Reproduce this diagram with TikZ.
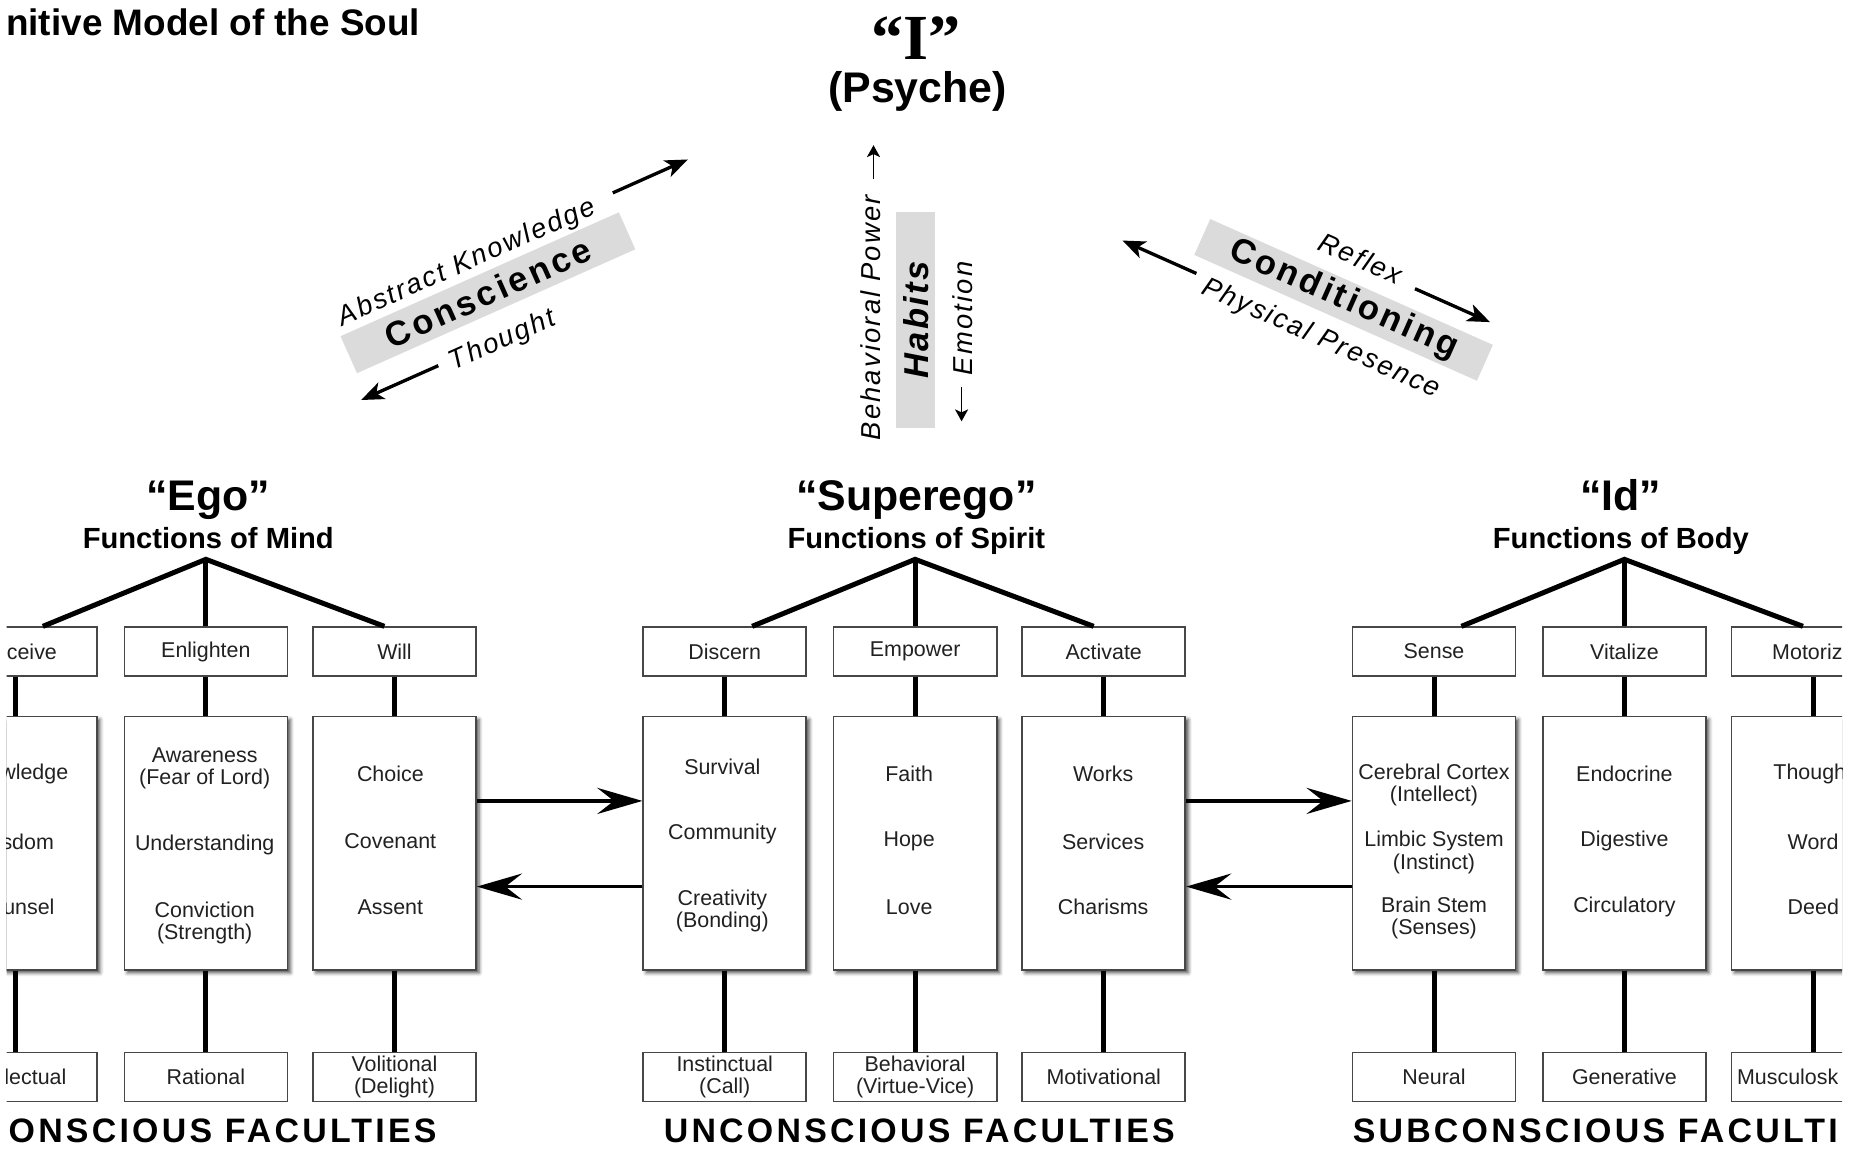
\documentclass[tikz,border=0pt]{standalone}
\usepackage{fontspec}
\setmainfont{Liberation Sans}
\newfontfamily\timesfam{Liberation Serif}
\usetikzlibrary{arrows.meta,shadows.blur}

\definecolor{bandgray}{gray}{0.86}
\definecolor{boxline}{gray}{0.28}
\definecolor{boxtext}{gray}{0.13}

\newcommand\boxfont{\fontsize{18}{19}\selectfont}
\newcommand\headfont{\fontsize{36}{38}\selectfont\bfseries}
\newcommand\subheadfont{\fontsize{24.5}{26}\selectfont\bfseries}
\newcommand\facfont{\fontsize{28.5}{30}\selectfont\bfseries\addfontfeature{LetterSpace=9.5}}
\newcommand\tagfont{\fontsize{23}{25}\selectfont\itshape\addfontfeature{LetterSpace=8}}
\newcommand\bandfont{\fontsize{29}{31}\selectfont\bfseries\addfontfeature{LetterSpace=9}}
\newcommand\habfont{\fontsize{29}{31}\selectfont\bfseries\itshape\addfontfeature{LetterSpace=7}}

\tikzset{
  small box/.style={draw=boxline,line width=1.4pt,fill=white,minimum width=137pt,minimum height=41pt,inner sep=0pt,text=boxtext,font=\boxfont,align=center},
  big box/.style={draw=boxline,line width=1.4pt,fill=white,minimum width=137pt,minimum height=213pt,inner sep=0pt,
    blur shadow={shadow xshift=2.5pt,shadow yshift=-2.5pt,shadow blur radius=3pt,shadow opacity=70}},
  entry/.style={inner sep=0pt,text=boxtext,font=\boxfont,align=center},
  stem/.style={draw=black,line width=4.2pt},
  flow/.style={draw=black,line width=2.8pt,-{Stealth[length=38pt,width=22pt,inset=14pt]}},
  swing/.style={draw=black,line width=2.8pt,-{Stealth[length=19pt,width=15pt,inset=5pt]}},
  thin arrow/.style={draw=black,line width=1.4pt,-{Stealth[length=10pt,width=11pt,inset=2.5pt]}},
  band/.style={fill=bandgray,inner sep=0pt},
  label text/.style={inner sep=0pt,font=\tagfont},
}

\begin{document}
\begin{tikzpicture}[x=1pt,y=1pt]
\useasboundingbox (0,0) rectangle (1568,-967);
\begin{scope}
\clip (5.5,0) rectangle (1548,-967);

% heading
\node[anchor=base west,inner sep=0pt,font=\fontsize{31}{33}\selectfont\bfseries] (title) at (5,-30) {nitive Model of the Soul};
\node[anchor=base,inner sep=0pt,font=\fontsize{54}{56}\selectfont\timesfam\bfseries] (self) at (770,-50) {“I”};
\node[anchor=base,inner sep=0pt,font=\headfont] (psyche) at (771,-86) {(Psyche)};

% conscience
\begin{scope}[shift={(410,-246)},rotate=24,transform shape]
    \node[band,minimum width=256pt,minimum height=34pt,font=\bandfont] (consc) at (0,0) {Conscience};
    \node[label text] (abstr) at (-6,30) {Abstract Knowledge};
    \node[label text] (thought) at (-5,-42) {Thought};
    \coordinate (kn-from) at (130,34);
    \coordinate (kn-to) at (199,34);
    \coordinate (th-from) at (-63,-39);
    \coordinate (th-to) at (-134,-39);
    \draw[swing] (kn-from) -- (kn-to);
    \draw[swing] (th-from) -- (th-to);
\end{scope}

% habits
\begin{scope}[shift={(769.5,-269)},rotate=90,transform shape]
    \node[band,minimum width=181pt,minimum height=33pt,font=\habfont] (habits) at (0,0) {Habits};
    \node[label text] (behav power) at (2,37.5) {Behavioral Power};
    \node[label text] (emotion) at (1.5,-39.5) {Emotion};
    \coordinate (bp-from) at (119,35.5);
    \coordinate (bp-to) at (147,35.5);
    \coordinate (em-from) at (-56,-38.5);
    \coordinate (em-to) at (-85,-38.5);
    \draw[thin arrow] (bp-from) -- (bp-to);
    \draw[thin arrow] (em-from) -- (em-to);
\end{scope}

% conditioning
\begin{scope}[shift={(1129,-252)},rotate=-24,transform shape]
    \node[band,minimum width=260pt,minimum height=33pt,font=\bandfont] (condit) at (0,0) {Conditioning};
    \node[label text] (reflex) at (-1,38) {Reflex};
    \node[label text] (presence) at (-4,-38) {Physical Presence};
    \coordinate (rf-from) at (51,33);
    \coordinate (rf-to) at (120,33);
    \coordinate (pp-from) at (-122,-30);
    \coordinate (pp-to) at (-190,-30);
    \draw[swing] (rf-from) -- (rf-to);
    \draw[swing] (pp-from) -- (pp-to);
\end{scope}

% group headings
\node[anchor=base,inner sep=0pt,font=\headfont] (ego) at (175,-429) {“Ego”};
\node[anchor=base,inner sep=0pt,font=\subheadfont] (egofn) at (175,-460.5) {Functions of Mind};
\node[anchor=base,inner sep=0pt,font=\headfont] (superego) at (770,-429) {“Superego”};
\node[anchor=base,inner sep=0pt,font=\subheadfont] (superegofn) at (770,-460.5) {Functions of Spirit};
\node[anchor=base,inner sep=0pt,font=\headfont] (id) at (1362,-429) {“Id”};
\node[anchor=base,inner sep=0pt,font=\subheadfont] (idfn) at (1362,-460.5) {Functions of Body};
\coordinate (egotop) at (173,-470);
\coordinate (superegotop) at (769,-470);
\coordinate (idtop) at (1365,-470);

% function boxes
\begin{scope}[every node/.style={small box}]
    \node (perceive) at (13,-547.5) {};
    \node (enlighten) at (173,-547.5) {Enlighten};
    \node (will) at (331.5,-547.5) {Will};
    \node (discern) at (609,-547.5) {Discern};
    \node (empower) at (769,-547.5) {Empower};
    \node (activate) at (927.5,-547.5) {Activate};
    \node (sense) at (1205,-547.5) {Sense};
    \node (vitalize) at (1365,-547.5) {Vitalize};
    \node (motorize) at (1523.5,-547.5) {};
    \node (intel) at (13,-905) {};
    \node (ration) at (173,-905) {Rational};
    \node (volit) at (331.5,-905) {Volitional\\(Delight)};
    \node (instinct) at (609,-905) {Instinctual\\(Call)};
    \node (behav) at (769,-905) {Behavioral\\(Virtue-Vice)};
    \node (motiv) at (927.5,-905) {Motivational};
    \node (neural) at (1205,-905) {Neural};
    \node (gener) at (1365,-905) {Generative};
    \node (muscul) at (1523.5,-905) {};
\end{scope}
\begin{scope}[every node/.style={big box}]
    \node (mindA) at (13,-708.5) {};
    \node (mindB) at (173,-708.5) {};
    \node (mindC) at (331.5,-708.5) {};
    \node (spiritA) at (609,-708.5) {};
    \node (spiritB) at (769,-708.5) {};
    \node (spiritC) at (927.5,-708.5) {};
    \node (bodyA) at (1205,-708.5) {};
    \node (bodyB) at (1365,-708.5) {};
    \node (bodyC) at (1523.5,-708.5) {};
\end{scope}

% box texts
\begin{scope}[every node/.style={entry}]
    \node[anchor=east] (perc-txt) at (48,-547.5) {ceive};
    \node[anchor=west] (motor-txt) at (1489,-547.5) {Motoriz};
    \node[anchor=east] (intel-txt) at (56,-905) {lectual};
    \node[anchor=west] (musc-txt) at (1459.5,-905) {Musculosk};
    \node[anchor=east] (knowl) at (57.5,-650) {wledge};
    \node[anchor=east] (wisd) at (45.5,-707) {sdom};
    \node[anchor=east] (couns) at (46,-762) {unsel};
    \node (aware) at (172,-645.5) {Awareness\\(Fear of Lord)};
    \node (underst) at (172,-710) {Understanding};
    \node (convic) at (172,-775.5) {Conviction\\(Strength)};
    \node (choice) at (328,-650) {Choice};
    \node (coven) at (328,-707) {Covenant};
    \node (assent) at (328,-762) {Assent};
    \node (surv) at (607,-644) {Survival};
    \node (commun) at (607,-701) {Community};
    \node (creat) at (607,-765.5) {Creativity\\(Bonding)};
    \node (faith) at (764,-650) {Faith};
    \node (hope) at (764,-707) {Hope};
    \node (love) at (764,-762) {Love};
    \node (works) at (927,-650) {Works};
    \node (serv) at (927,-707) {Services};
    \node (charism) at (927,-762) {Charisms};
    \node (cortex) at (1205,-659.5) {Cerebral Cortex\\(Intellect)};
    \node (limbic) at (1205,-716.5) {Limbic System\\(Instinct)};
    \node (brainstem) at (1205,-771.5) {Brain Stem\\(Senses)};
    \node (endoc) at (1365,-650) {Endocrine};
    \node (digest) at (1365,-707) {Digestive};
    \node (circ) at (1365,-762) {Circulatory};
    \node[anchor=west] (thght) at (1490,-650) {Though};
    \node[anchor=west] (word) at (1502,-707) {Word};
    \node[anchor=west] (deed) at (1502,-762) {Deed};
\end{scope}

% trees
\draw[stem,line join=miter] ([xshift=23pt]perceive.north) -- (egotop) -- ([xshift=-8.5pt]will.north);
\draw[stem] (egotop) -- (enlighten);
\draw[stem,line join=miter] ([xshift=23pt]discern.north) -- (superegotop) -- ([xshift=-8.5pt]activate.north);
\draw[stem] (superegotop) -- (empower);
\draw[stem,line join=miter] ([xshift=23pt]sense.north) -- (idtop) -- ([xshift=-8.5pt]motorize.north);
\draw[stem] (idtop) -- (vitalize);

\begin{scope}[every edge/.style={stem}]
    \path (perceive) edge (mindA);
    \path (enlighten) edge (mindB);
    \path (will) edge (mindC);
    \path (discern) edge (spiritA);
    \path (empower) edge (spiritB);
    \path (activate) edge (spiritC);
    \path (sense) edge (bodyA);
    \path (vitalize) edge (bodyB);
    \path (motorize) edge (bodyC);
    \path (mindA) edge (intel);
    \path (mindB) edge (ration);
    \path (mindC) edge (volit);
    \path (spiritA) edge (instinct);
    \path (spiritB) edge (behav);
    \path (spiritC) edge (motiv);
    \path (bodyA) edge (neural);
    \path (bodyB) edge (gener);
    \path (bodyC) edge (muscul);
\end{scope}

% flows between groups
\draw[flow] ([yshift=35.5pt]mindC.east) -- ([yshift=35.5pt]spiritA.west);
\draw[flow] ([yshift=-36.5pt]spiritA.west) -- ([yshift=-36.5pt]mindC.east);
\draw[flow] ([yshift=35.5pt]spiritC.east) -- ([yshift=35.5pt]bodyA.west);
\draw[flow] ([yshift=-36.5pt]bodyA.west) -- ([yshift=-36.5pt]spiritC.east);

% faculties
\node[anchor=base east,inner sep=0pt,font=\facfont] (facl) at (367,-960) {ONSCIOUS FACULTIES};
\node[anchor=base,inner sep=0pt,font=\facfont] (facm) at (772.5,-960) {UNCONSCIOUS FACULTIES};
\node[anchor=base west,inner sep=0pt,font=\facfont] (facr) at (1136.5,-960) {SUBCONSCIOUS FACULTI};
\end{scope}
\end{tikzpicture}
\end{document}
